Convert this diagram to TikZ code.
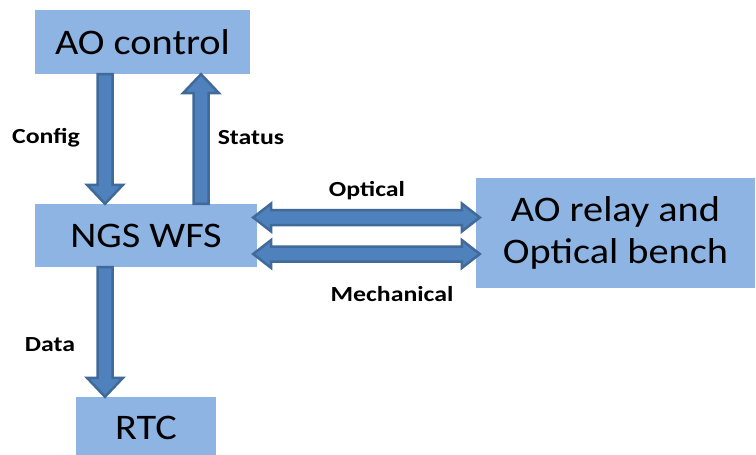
\documentclass[tikz,border=0pt]{standalone}
\usepackage{fontspec}
\setmainfont{Carlito}
\newfontfamily\boxfont[FakeStretch=1.12]{Carlito}
\newfontfamily\lblfont[FakeStretch=1.2]{Carlito}
\usetikzlibrary{calc}
\definecolor{boxblue}{HTML}{8EB4E3}
\definecolor{arrfill}{HTML}{4F81BD}
\definecolor{arrline}{HTML}{3F6A9A}
\tikzset{
  box/.style={fill=boxblue, draw=none, inner sep=0pt, font=\boxfont\fontsize{36}{40}\selectfont, align=center},
  lbl/.style={font=\lblfont\bfseries\fontsize{21.5}{24}\selectfont, inner sep=0pt},
  blk/.style={fill=arrfill, draw=arrline, line width=2.5pt, line join=miter}
}
% single block arrow from #1 to #2
\newcommand\blkarrow[2]{%
  \draw[blk] ($(#1)!7.5pt!90:(#2)$) -- ($(#2)!19pt!(#1)!7.5pt!90:(#2)$)
    -- ($(#2)!19pt!(#1)!18pt!90:(#2)$) -- (#2)
    -- ($(#2)!19pt!(#1)!18pt!-90:(#2)$) -- ($(#2)!19pt!(#1)!7.5pt!-90:(#2)$)
    -- ($(#1)!7.5pt!-90:(#2)$) -- cycle;}
% double block arrow between #1 and #2
\newcommand\dblarrow[2]{%
  \draw[blk] (#1) -- ($(#1)!18pt!(#2)!14pt!90:(#2)$) -- ($(#1)!18pt!(#2)!7.5pt!90:(#2)$)
    -- ($(#2)!18pt!(#1)!7.5pt!-90:(#1)$) -- ($(#2)!18pt!(#1)!14pt!-90:(#1)$)
    -- (#2)
    -- ($(#2)!18pt!(#1)!14pt!90:(#1)$) -- ($(#2)!18pt!(#1)!7.5pt!90:(#1)$)
    -- ($(#1)!18pt!(#2)!7.5pt!-90:(#2)$) -- ($(#1)!18pt!(#2)!14pt!-90:(#2)$)
    -- cycle;}
\begin{document}
\begin{tikzpicture}[x=1pt,y=-1pt]
\useasboundingbox[fill=white] (0,0) rectangle (756,455);
\node[box, minimum width=215pt, minimum height=64pt] (ao) at (142.5,42) {AO control};
\node[box, minimum width=222pt, minimum height=63pt] (ngs) at (146,235.5) {NGS WFS};
\node[box, minimum width=140pt, minimum height=62pt] (rtc) at (146,428) {RTC};
\node[box, minimum width=279pt, minimum height=110pt] (relay) at (615.5,233) {AO relay and\\[2pt]Optical bench};
% connector end points
\coordinate (c1) at (ao.south -| 105,0);
\coordinate (c2) at (ngs.north -| 105,0);
\coordinate (s1) at (ngs.north -| 201,0);
\coordinate (s2) at (ao.south -| 201,0);
\coordinate (d1) at (ngs.south -| 105,0);
\coordinate (d2) at (rtc.north -| 105,0);
\coordinate (o1) at ($(ngs.east |- 0,217.5)+(-4,0)$);
\coordinate (o2) at ($(relay.west |- 0,217.5)+(4,0)$);
\coordinate (m1) at ($(ngs.east |- 0,254)+(-4,0)$);
\coordinate (m2) at ($(relay.west |- 0,254)+(4,0)$);
\blkarrow{c1}{c2}
\blkarrow{s1}{s2}
\blkarrow{d1}{d2}
\dblarrow{o1}{o2}
\dblarrow{m1}{m2}
\node[lbl] (lc) at (46,138) {Config};
\node[lbl] (ls) at (251,138) {Status};
\node[lbl] (ld) at (50,345) {Data};
\node[lbl] (lo) at (367,191) {Optical};
\node[lbl] (lm) at (392,294) {Mechanical};
\end{tikzpicture}
\end{document}
